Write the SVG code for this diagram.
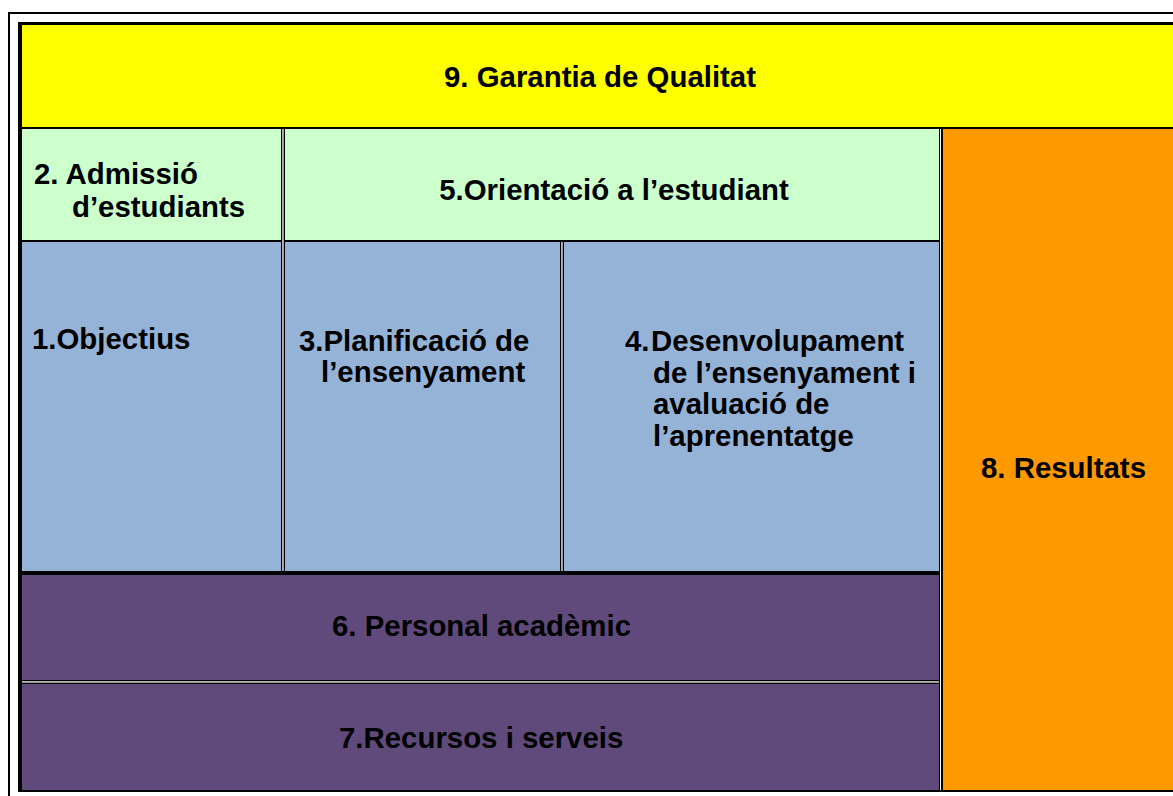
<svg xmlns="http://www.w3.org/2000/svg" width="1173" height="796" viewBox="0 0 1173 796">
<style>
.t{font-family:"Liberation Sans",Arial,sans-serif;font-weight:bold;font-size:29.4px;fill:#000}
.blk{fill:#000}
.wht{fill:#fff}
</style>
<rect x="0" y="0" width="1173" height="796" fill="#fff"/>
<g id="frame">
<rect class="blk" x="8" y="12" width="2" height="784"/>
<rect class="blk" x="8" y="12" width="1165" height="2"/>
</g>
<g id="n9">
<rect x="18" y="22" width="1155" height="107" fill="#FFFF00"/>
<text class="t" x="600" y="87" text-anchor="middle">9. Garantia de Qualitat</text>
</g>
<g id="n2">
<rect x="22" y="129" width="259" height="113" fill="#CCFFCC"/>
<text class="t" x="34" y="184">2. Admissió</text>
<text class="t" x="72" y="217">d’estudiants</text>
</g>
<g id="n5">
<rect x="285" y="129" width="654" height="113" fill="#CCFFCC"/>
<text class="t" x="614" y="200" text-anchor="middle">5.Orientació a l’estudiant</text>
</g>
<g id="n1">
<rect x="22" y="242" width="259" height="329" fill="#95B3D7"/>
<text class="t" x="32" y="349">1.Objectius</text>
</g>
<g id="n3">
<rect x="285" y="242" width="275" height="329" fill="#95B3D7"/>
<text class="t" x="299" y="351">3.Planificació de</text>
<text class="t" x="321" y="382">l’ensenyament</text>
</g>
<g id="n4">
<rect x="564" y="242" width="375" height="329" fill="#95B3D7"/>
<text class="t" x="625" y="351">4.</text>
<text class="t" x="651" y="351">Desenvolupament</text>
<text class="t" x="653" y="383">de l’ensenyament i</text>
<text class="t" x="653" y="414">avaluació de</text>
<text class="t" x="653" y="446">l’aprenentatge</text>
</g>
<g id="n8">
<rect x="943" y="129" width="230" height="661" fill="#FF9900"/>
<text class="t" x="981" y="478">8. Resultats</text>
</g>
<g id="n6">
<rect x="22" y="575" width="917" height="105" fill="#604A7B"/>
<text class="t" x="332" y="636">6. Personal acadèmic</text>
</g>
<g id="n7">
<rect x="22" y="684" width="917" height="106" fill="#604A7B"/>
<text class="t" x="339" y="748">7.Recursos i serveis</text>
</g>
<g id="connectors">
<rect class="blk" x="18" y="22" width="4" height="770"/>
<rect class="blk" x="18" y="22" width="1155" height="3"/>
<rect class="blk" x="18" y="127" width="1155" height="2"/>
<rect class="blk" x="18" y="240" width="921" height="2"/>
<rect class="blk" x="281" y="129" width="4" height="442"/>
<rect class="wht" x="282.3" y="129" width="1.3" height="442"/>
<rect class="blk" x="560" y="242" width="4" height="329"/>
<rect class="wht" x="561.3" y="242" width="1.3" height="329"/>
<rect class="blk" x="939" y="129" width="4" height="661"/>
<rect class="wht" x="940" y="129" width="1" height="661"/>
<rect class="blk" x="18" y="571" width="921" height="4"/>
<rect class="blk" x="18" y="680" width="921" height="4"/>
<rect class="wht" x="22" y="681.3" width="917" height="1.3"/>
<rect class="blk" x="18" y="790" width="1155" height="2"/>
</g>
</svg>
